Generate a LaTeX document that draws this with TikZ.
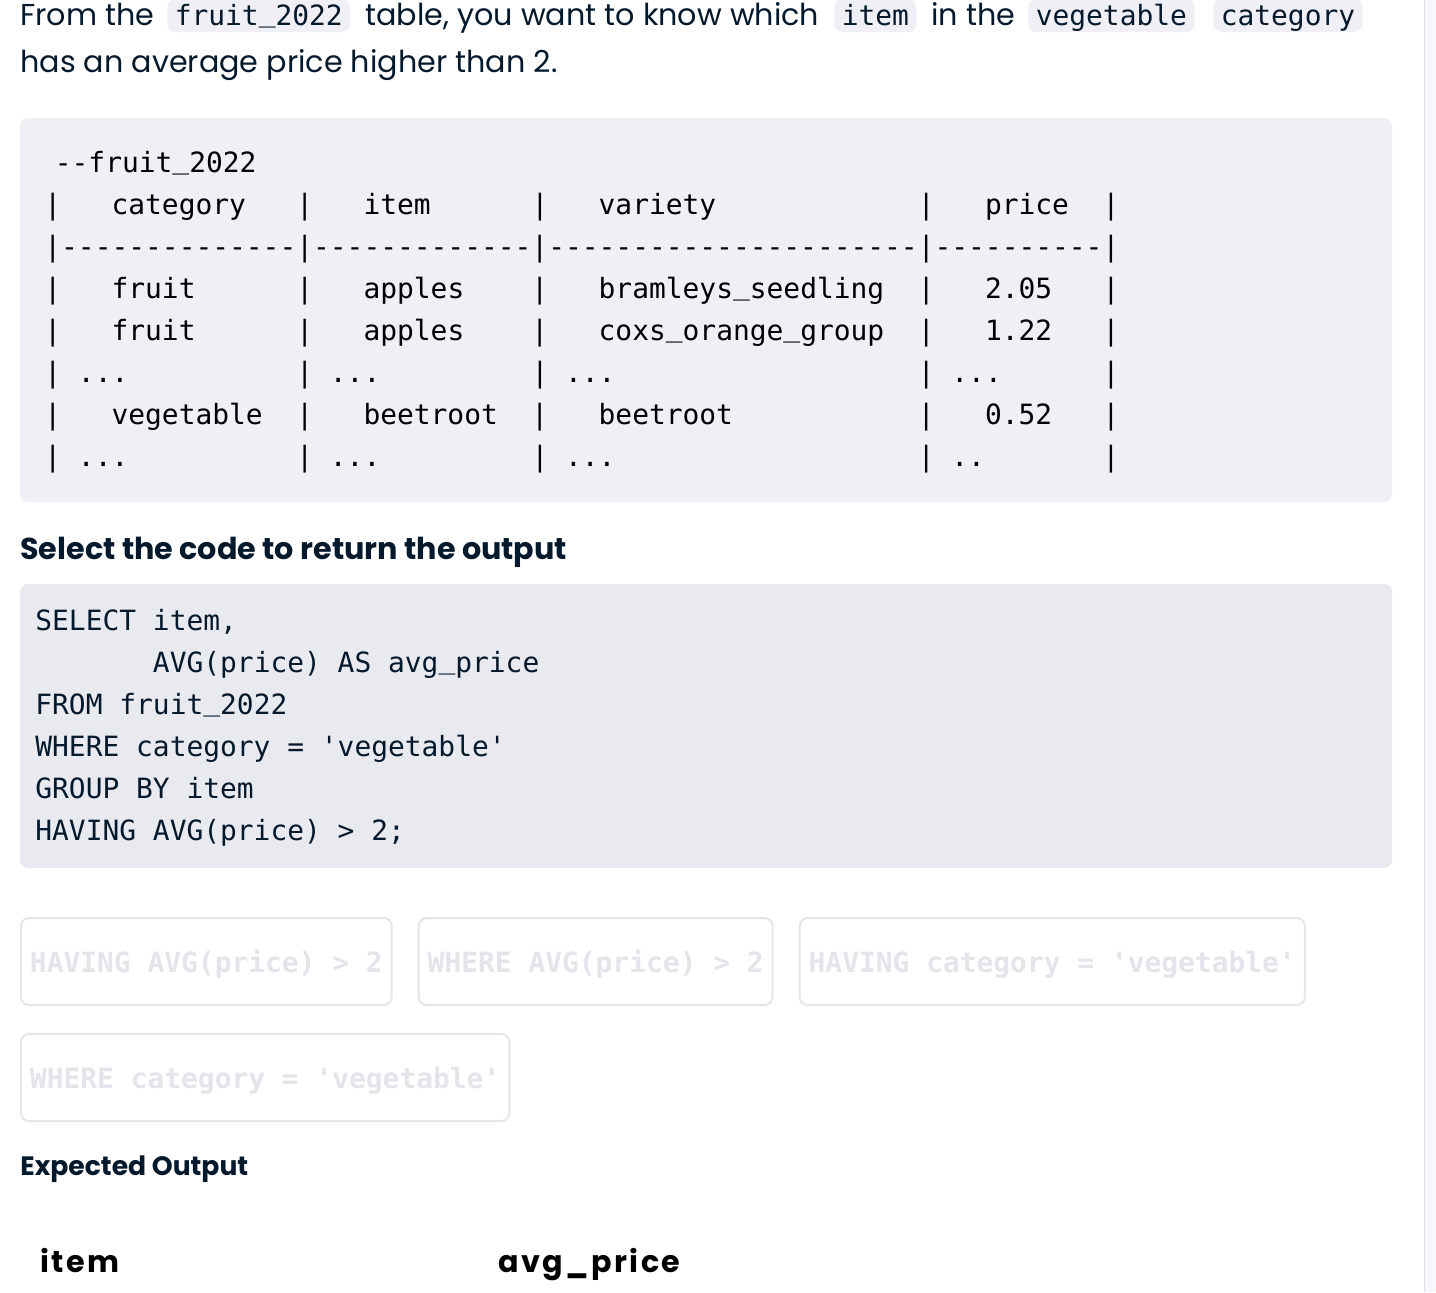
\documentclass[tikz,border=0pt]{standalone}
\usepackage{fontspec}
\setmainfont{Poppins}
\setmonofont{DejaVu Sans Mono}
\newfontfamily\outfont{Poppins}[LetterSpace=8]
\usetikzlibrary{positioning}
\definecolor{navy}{HTML}{05192D}
\definecolor{pillgray}{HTML}{EFEFF5}
\definecolor{tablegray}{HTML}{EFEFF5}
\definecolor{codegray}{HTML}{E9EAEF}
\definecolor{optline}{HTML}{E5E5EC}
\definecolor{opttext}{HTML}{E4E4EB}
\definecolor{barfill}{HTML}{F8F8FC}
\definecolor{barline}{HTML}{E0E0EA}
% underscore sitting on the baseline
\newcommand\uscore{\raisebox{0.13em}{\_}}
\begin{document}
\begin{tikzpicture}[x=0.5pt,y=-0.5pt,
  txt/.style={anchor=base west,inner sep=0pt,text=navy,font=\fontsize{15.1}{18}\selectfont},
  head/.style={anchor=base west,inner sep=0pt,text=navy,font=\bfseries\fontsize{15.1}{18}\selectfont},
  pill/.style={anchor=base west,fill=pillgray,rounded corners=4pt,inner xsep=3.7pt,inner ysep=0pt,
    text height=13.25pt,text depth=3.25pt,text=navy,font=\ttfamily\fontsize{13.95}{16}\selectfont},
  mono/.style={anchor=base west,inner sep=0pt,font=\ttfamily\fontsize{13.95}{16}\selectfont},
  option/.style={draw=optline,line width=1pt,rounded corners=4pt,inner xsep=4.5pt,inner ysep=0pt,
    text height=27pt,text depth=16.5pt,text=opttext,font=\ttfamily\bfseries\fontsize{13.95}{16}\selectfont},
  outhead/.style={anchor=base west,inner sep=0pt,text=black,font=\outfont\bfseries\fontsize{15.1}{18}\selectfont}]
\useasboundingbox (0,0) rectangle (1436,1292);
\fill[white] (0,0) rectangle (1436,1292);
% scroll bar at the right
\fill[barfill] (1424,0) rectangle (1436,1292);
\draw[barline,line width=0.75pt] (1424.5,0) -- (1424.5,1292);

% question
\node[txt] (from) at (20,25.5) {From the};
\node[pill] (tabname) at (167,25.5) {fruit\uscore 2022};
\node[txt] (ask) at (365,25.5) {table, you want to know which};
\node[pill] (itemword) at (834,25.5) {item};
\node[txt] (inthe) at (931,25.5) {in the};
\node[pill] (vegword) at (1028,25.5) {vegetable};
\node[pill] (catword) at (1213,25.5) {category};
\node[txt] (ask2) at (20,72) {has an average price higher than 2.};

% sample of the table
\fill[tablegray,rounded corners=4pt] (20,118) rectangle (1392,502);
\begin{scope}[every node/.style={mono}]
\node (tl0) at (54.5,172) {--fruit\uscore 2022};
\node (tl1) at (44,214) {|~~~category~~~|~~~item~~~~~~|~~~variety~~~~~~~~~~~~|~~~price~~|};
\node (tl2) at (44,256) {|--------------|-------------|----------------------|----------|};
\node (tl3) at (44,298) {|~~~fruit~~~~~~|~~~apples~~~~|~~~bramleys\uscore seedling~~|~~~2.05~~~|};
\node (tl4) at (44,340) {|~~~fruit~~~~~~|~~~apples~~~~|~~~coxs\uscore orange\uscore group~~|~~~1.22~~~|};
\node (tl5) at (44,382) {|~...~~~~~~~~~~|~...~~~~~~~~~|~...~~~~~~~~~~~~~~~~~~|~...~~~~~~|};
\node (tl6) at (44,424) {|~~~vegetable~~|~~~beetroot~~|~~~beetroot~~~~~~~~~~~|~~~0.52~~~|};
\node (tl7) at (44,466) {|~...~~~~~~~~~~|~...~~~~~~~~~|~...~~~~~~~~~~~~~~~~~~|~..~~~~~~~|};
\end{scope}

\node[head] (select) at (20,559) {Select the code to return the output};

% query with the gap
\fill[codegray,rounded corners=4pt] (20,584) rectangle (1392,868);
\begin{scope}[every node/.style={mono,text=navy}]
\node (q1) at (35,630) {SELECT~item,};
\node (q2) at (35,672) {~~~~~~~AVG(price)~AS~avg\uscore price};
\node (q3) at (35,714) {FROM~fruit\uscore 2022};
\node (q4) at (35,756) {WHERE~category~=~'vegetable'};
\node (q5) at (35,798) {GROUP~BY~item};
\node (q6) at (35,840) {HAVING~AVG(price)~>~2;};
\end{scope}

% options, all used up
\node[option,anchor=north west] (opt1) at (20,917) {HAVING~AVG(price)~>~2};
\node[option,right=12.5pt of opt1] (opt2) {WHERE~AVG(price)~>~2};
\node[option,right=12.5pt of opt2] (opt3) {HAVING~category~=~'vegetable'};
\node[option,below=13.5pt of opt1.south west,anchor=north west] (opt4) {WHERE~category~=~'vegetable'};

\node[head,font=\bfseries\fontsize{13.3}{16}\selectfont] (expected) at (20,1175) {Expected Output};
\node[outhead] (colitem) at (40,1272) {item};
\node[outhead] (colavg) at (498,1272) {avg\_price};
\end{tikzpicture}
\end{document}
